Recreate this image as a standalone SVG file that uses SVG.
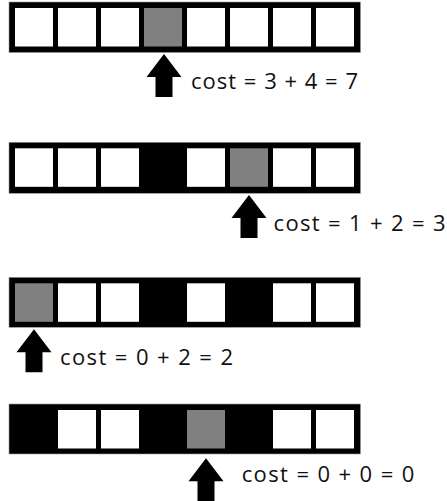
<svg xmlns="http://www.w3.org/2000/svg" width="447" height="501" viewBox="0 0 447 501">
<style>
.bar{fill:#000;stroke:#9a9a9a;stroke-width:0.6}
.cell{fill:#fff}
.cur{fill:#808080}
.ptr{fill:#000}
.lbl{font-family:"Open Sans","Liberation Sans",sans-serif;font-size:22px;fill:#111}
</style>
<defs>
<path id="arrow" d="M0,0 L17.5,23 L8.5,23 L8.5,43 L-8.5,43 L-8.5,23 L-17.5,23 Z"/>
</defs>
<rect width="447" height="501" fill="#fff"/>
<g id="row1">
<rect class="bar" x="9" y="2" width="351.5" height="50.5"/>
<rect class="cell" x="15" y="8" width="38" height="38.5"/>
<rect class="cell" x="58" y="8" width="38" height="38.5"/>
<rect class="cell" x="101" y="8" width="38" height="38.5"/>
<rect class="cur" x="144" y="8" width="38" height="38.5"/>
<rect class="cell" x="187" y="8" width="38" height="38.5"/>
<rect class="cell" x="230" y="8" width="38" height="38.5"/>
<rect class="cell" x="273" y="8" width="38" height="38.5"/>
<rect class="cell" x="316" y="8" width="38" height="38.5"/>
<text class="lbl" x="191" y="89.3" textLength="167" lengthAdjust="spacing">cost = 3 + 4 = 7</text>
</g>
<g id="row2">
<rect class="bar" x="9" y="142.3" width="351.5" height="51"/>
<rect class="cell" x="15" y="148.3" width="38" height="38.5"/>
<rect class="cell" x="58" y="148.3" width="38" height="38.5"/>
<rect class="cell" x="101" y="148.3" width="38" height="38.5"/>
<rect class="cell" x="187" y="148.3" width="38" height="38.5"/>
<rect class="cur" x="230" y="148.3" width="38" height="38.5"/>
<rect class="cell" x="273" y="148.3" width="38" height="38.5"/>
<rect class="cell" x="316" y="148.3" width="38" height="38.5"/>
<text class="lbl" x="273.5" y="230.7" textLength="172" lengthAdjust="spacing">cost = 1 + 2 = 3</text>
</g>
<g id="row3">
<rect class="bar" x="9" y="277.3" width="351.5" height="50"/>
<rect class="cur" x="15" y="283.3" width="38" height="38.5"/>
<rect class="cell" x="58" y="283.3" width="38" height="38.5"/>
<rect class="cell" x="101" y="283.3" width="38" height="38.5"/>
<rect class="cell" x="187" y="283.3" width="38" height="38.5"/>
<rect class="cell" x="273" y="283.3" width="38" height="38.5"/>
<rect class="cell" x="316" y="283.3" width="38" height="38.5"/>
<text class="lbl" x="60" y="365" textLength="173" lengthAdjust="spacing">cost = 0 + 2 = 2</text>
</g>
<g id="row4">
<rect class="bar" x="9" y="404" width="351.5" height="50"/>
<rect class="cell" x="58" y="410" width="38" height="38.5"/>
<rect class="cell" x="101" y="410" width="38" height="38.5"/>
<rect class="cur" x="187" y="410" width="38" height="38.5"/>
<rect class="cell" x="273" y="410" width="38" height="38.5"/>
<rect class="cell" x="316" y="410" width="38" height="38.5"/>
<text class="lbl" x="241.7" y="481.7" textLength="172.6" lengthAdjust="spacing">cost = 0 + 0 = 0</text>
</g>
<g id="connectors">
<use class="ptr" href="#arrow" x="164" y="54"/>
<use class="ptr" href="#arrow" x="249" y="195"/>
<use class="ptr" href="#arrow" x="34" y="329.3"/>
<use class="ptr" href="#arrow" x="206" y="458.3"/>
</g>
</svg>
